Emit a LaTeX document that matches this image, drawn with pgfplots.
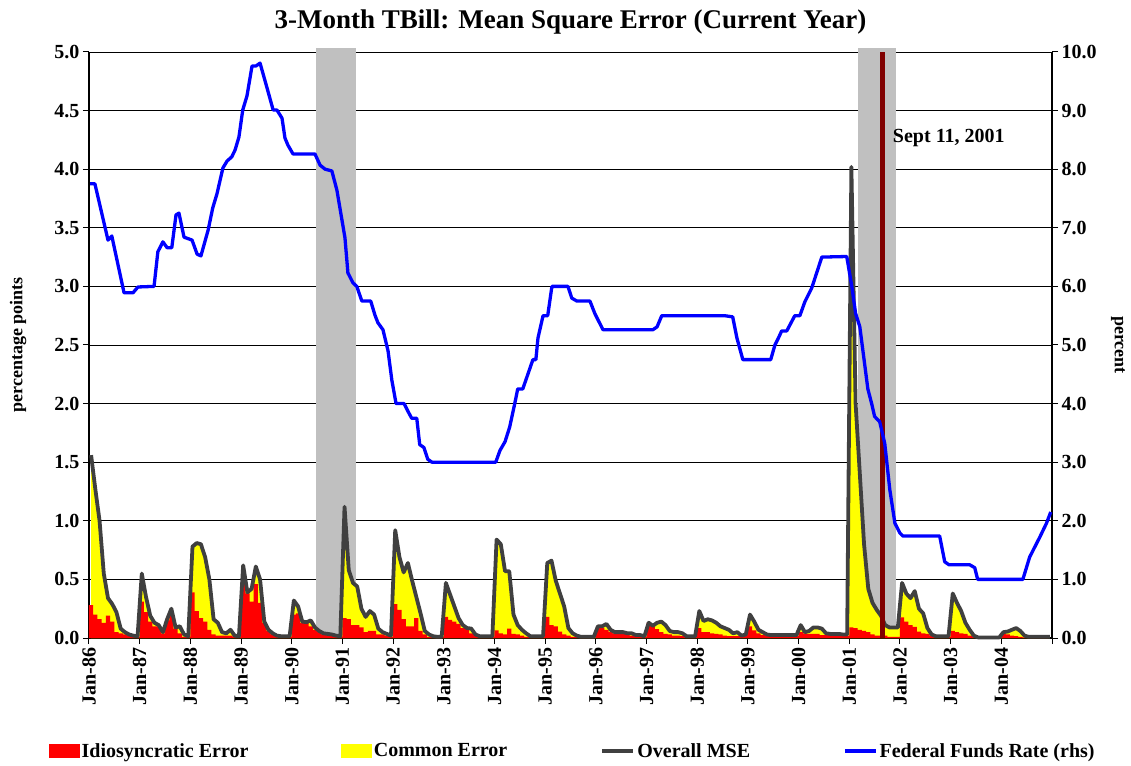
\documentclass[border=0pt]{standalone}
\usepackage{fontspec}
\setmainfont{Liberation Serif}
\usepackage{pgfplots}
\usepackage{pgfplotstable}
\pgfplotsset{compat=1.18}

\definecolor{idiored}{HTML}{FF0000}
\definecolor{comyellow}{HTML}{FFFF00}
\definecolor{msegray}{HTML}{404040}
\definecolor{ffblue}{HTML}{0000FF}
\definecolor{bandgray}{HTML}{C0C0C0}
\definecolor{sepred}{HTML}{800000}

% month index (0 = Jan-86), idiosyncratic error, overall MSE
\pgfplotstableread{
i idio mse
0 0.28 1.56
1 0.20 1.27
2 0.16 1.00
3 0.13 0.55
4 0.19 0.34
5 0.14 0.29
6 0.05 0.22
7 0.04 0.08
8 0.03 0.05
9 0.02 0.03
10 0.01 0.02
11 0.01 0.015
12 0.31 0.55
13 0.22 0.35
14 0.14 0.19
15 0.10 0.13
16 0.10 0.11
17 0.04 0.05
18 0.15 0.16
19 0.20 0.25
20 0.08 0.09
21 0.04 0.10
22 0.01 0.03
23 0.01 0.015
24 0.39 0.78
25 0.23 0.81
26 0.17 0.80
27 0.14 0.69
28 0.07 0.50
29 0.03 0.16
30 0.02 0.13
31 0.02 0.05
32 0.02 0.04
33 0.02 0.07
34 0.01 0.02
35 0.01 0.015
36 0.48 0.62
37 0.38 0.39
38 0.31 0.42
39 0.46 0.61
40 0.30 0.50
41 0.13 0.14
42 0.06 0.07
43 0.03 0.04
44 0.02 0.02
45 0.01 0.015
46 0.01 0.015
47 0.01 0.015
48 0.20 0.32
49 0.21 0.27
50 0.13 0.14
51 0.13 0.135
52 0.10 0.15
53 0.07 0.09
54 0.05 0.06
55 0.03 0.04
56 0.025 0.035
57 0.02 0.03
58 0.015 0.02
59 0.01 0.015
60 0.17 1.12
61 0.16 0.58
62 0.11 0.47
63 0.11 0.44
64 0.09 0.25
65 0.05 0.18
66 0.06 0.23
67 0.06 0.20
68 0.03 0.08
69 0.03 0.05
70 0.02 0.035
71 0.01 0.02
72 0.29 0.92
73 0.24 0.69
74 0.16 0.56
75 0.10 0.64
76 0.10 0.49
77 0.17 0.35
78 0.06 0.21
79 0.03 0.06
80 0.01 0.03
81 0.01 0.015
82 0.01 0.01
83 0.01 0.01
84 0.18 0.47
85 0.155 0.37
86 0.14 0.27
87 0.12 0.17
88 0.085 0.11
89 0.075 0.085
90 0.04 0.08
91 0.03 0.03
92 0.01 0.015
93 0.01 0.015
94 0.01 0.015
95 0.01 0.015
96 0.065 0.84
97 0.04 0.80
98 0.03 0.57
99 0.08 0.57
100 0.035 0.20
101 0.03 0.11
102 0.02 0.07
103 0.01 0.04
104 0.01 0.015
105 0.01 0.015
106 0.01 0.015
107 0.01 0.015
108 0.18 0.64
109 0.11 0.66
110 0.10 0.49
111 0.055 0.38
112 0.03 0.27
113 0.02 0.085
114 0.01 0.04
115 0.01 0.02
116 0.005 0.01
117 0.005 0.01
118 0.005 0.01
119 0.005 0.01
120 0.095 0.10
121 0.085 0.10
122 0.07 0.12
123 0.05 0.07
124 0.04 0.05
125 0.035 0.05
126 0.035 0.05
127 0.035 0.04
128 0.02 0.04
129 0.02 0.025
130 0.02 0.025
131 0.01 0.015
132 0.13 0.13
133 0.10 0.105
134 0.075 0.13
135 0.05 0.14
136 0.035 0.11
137 0.03 0.06
138 0.02 0.05
139 0.02 0.05
140 0.015 0.04
141 0.01 0.015
142 0.01 0.015
143 0.01 0.015
144 0.085 0.23
145 0.05 0.145
146 0.05 0.16
147 0.04 0.15
148 0.035 0.13
149 0.03 0.10
150 0.02 0.085
151 0.015 0.07
152 0.015 0.04
153 0.015 0.05
154 0.015 0.02
155 0.03 0.03
156 0.10 0.20
157 0.065 0.14
158 0.04 0.07
159 0.025 0.05
160 0.02 0.03
161 0.015 0.025
162 0.015 0.025
163 0.015 0.025
164 0.015 0.025
165 0.015 0.025
166 0.015 0.025
167 0.015 0.025
168 0.05 0.11
169 0.04 0.05
170 0.035 0.06
171 0.035 0.09
172 0.035 0.09
173 0.025 0.08
174 0.025 0.04
175 0.025 0.035
176 0.02 0.035
177 0.02 0.035
178 0.02 0.03
179 0.02 0.03
180 0.09 4.02
181 0.085 2.00
182 0.07 1.40
183 0.06 0.80
184 0.05 0.42
185 0.03 0.30
186 0.02 0.24
187 0.02 0.19
188 0.02 0.11
189 0.01 0.09
190 0.01 0.09
191 0.01 0.09
192 0.175 0.47
193 0.14 0.38
194 0.11 0.34
195 0.095 0.40
196 0.055 0.25
197 0.04 0.21
198 0.035 0.085
199 0.02 0.03
200 0.01 0.015
201 0.01 0.015
202 0.01 0.015
203 0.01 0.015
204 0.06 0.38
205 0.05 0.30
206 0.04 0.23
207 0.035 0.13
208 0.02 0.07
209 0.01 0.02
210 0.003 0.005
211 0.003 0.005
212 0.003 0.005
213 0.003 0.005
214 0.003 0.005
215 0.003 0.005
216 0.035 0.05
217 0.03 0.055
218 0.02 0.07
219 0.015 0.085
220 0.01 0.06
221 0.005 0.02
222 0.003 0.01
223 0.003 0.01
224 0.003 0.01
225 0.003 0.01
226 0.003 0.01
227 0.003 0.01
}\msedata

\pgfplotsset{
  every axis/.append style={
    scale only axis, width=963pt, height=586pt,
    xmin=0, xmax=228, clip=false,
    tick align=outside, major tick length=6pt,
    tick style={black, line width=1pt},
    axis line style={black, line width=1.2pt},
    tick label style={font=\fontsize{20}{20}\selectfont\bfseries},
    /pgf/number format/assume math mode=true,
    y tick label style={/pgf/number format/fixed, /pgf/number format/fixed zerofill, /pgf/number format/precision=1},
    scaled y ticks=false,
  }
}

\begin{document}
\begin{tikzpicture}
\begin{axis}[
    axis x line*=bottom, axis y line*=left,
    ymin=0, ymax=5, ytick={0,0.5,...,5},
    ymajorgrids, grid style={black, line width=0.9pt},
    xtick={0,12,...,228},
    xticklabels={Jan-86,Jan-87,Jan-88,Jan-89,Jan-90,Jan-91,Jan-92,Jan-93,Jan-94,Jan-95,Jan-96,Jan-97,Jan-98,Jan-99,Jan-00,Jan-01,Jan-02,Jan-03,Jan-04,{}},
    x tick label style={rotate=90, anchor=east},
    ylabel={percentage points},
    ylabel style={at={(axis description cs:-0.0737,0.5)}, anchor=center, font=\fontsize{18}{18}\selectfont\bfseries},
    title={3-Month TBill: Mean Square Error (Current Year)},
    title style={at={(axis description cs:0.5,1)}, anchor=base, yshift=17pt, font=\fontsize{27}{27}\selectfont\bfseries},
    legend style={at={(axis description cs:-0.0415,-0.1928)}, anchor=west, draw=none, fill=none,
      inner sep=0pt, font=\fontsize{20}{20}\selectfont\bfseries,
      /tikz/every odd column/.append style={column sep=0pt},
      /tikz/every even column/.append style={column sep=91pt}},
    legend columns=4, legend cell align=left,
  ]
  % recession bands
  \addplot[fill=bandgray, draw=none, forget plot] coordinates {(53.8,5.03) (63.2,5.03)} \closedcycle;
  \addplot[fill=bandgray, draw=none, forget plot] coordinates {(182.0,5.03) (191.0,5.03)} \closedcycle;
  % common error fills up to the overall MSE, idiosyncratic bars on top
  \addplot[fill=comyellow, draw=none, forget plot] table[x expr=\thisrow{i}+0.5, y=mse] {\msedata} \closedcycle;
  \addplot[fill=idiored, draw=none, const plot mark left, forget plot] table[x=i, y=idio] {\msedata} \closedcycle;
  \addplot[msegray, line width=3.8pt, line join=round, forget plot] table[x expr=\thisrow{i}+0.5, y=mse] {\msedata};
  % Sept 11
  \addplot[sepred, line width=5pt, forget plot] coordinates {(187.9,0) (187.9,5)};
  \node[anchor=west, inner sep=0pt, font=\fontsize{20}{20}\selectfont\bfseries] at (axis cs:190.3,4.27) {Sept 11, 2001};

  \addlegendimage{legend image code/.code={\fill[idiored] (0pt,-6.5pt) rectangle (30pt,6.5pt);}}
  \addlegendentry{Idiosyncratic Error}
  \addlegendimage{legend image code/.code={\fill[comyellow] (0pt,-6.5pt) rectangle (30pt,6.5pt);}}
  \addlegendentry{Common Error}
  \addlegendimage{legend image code/.code={\draw[msegray, line width=4pt] (0pt,0pt) -- (31pt,0pt);}}
  \addlegendentry{Overall MSE}
  \addlegendimage{legend image code/.code={\draw[ffblue, line width=3.5pt] (0pt,0pt) -- (31pt,0pt);}}
  \addlegendentry{Federal Funds Rate (rhs)}
\end{axis}

\begin{axis}[
    axis x line=none, axis y line*=right,
    ymin=0, ymax=10, ytick={0,1,...,10},
    ylabel={percent},
    ylabel style={at={(axis description cs:1.0685,0.5)}, anchor=center, rotate=180, font=\fontsize{18}{18}\selectfont\bfseries},
  ]
  \addplot[ffblue, line width=3.3pt, line join=round] coordinates {
    (0.24,7.75) (1.4,7.75) (4.5,6.79) (5.4,6.86) (8.3,5.89) (10.4,5.89) (11.6,5.99)
    (15.4,6.0) (16.3,6.59) (17.5,6.76) (18.5,6.66) (19.6,6.66) (20.6,7.22) (21.3,7.25)
    (22.5,6.84) (24.4,6.79) (25.6,6.55) (26.5,6.52) (28.2,6.96) (29.3,7.34) (30.3,7.58)
    (31.7,8.02) (32.7,8.14) (33.8,8.21) (34.6,8.33) (35.5,8.55) (36.4,9.01) (37.4,9.25)
    (38.6,9.76) (39.5,9.76) (40.5,9.81) (42.1,9.40) (43.6,9.01) (44.5,9.01) (45.7,8.87)
    (46.4,8.53) (47.1,8.41) (48.3,8.26) (53.5,8.26) (54.7,8.07) (55.9,8.0) (57.5,7.97)
    (58.7,7.64) (60.6,6.83) (61.3,6.23) (62.5,6.06) (63.4,6.0) (64.6,5.75) (66.7,5.75)
    (67.7,5.51) (68.4,5.38) (69.6,5.26) (70.8,4.9) (71.7,4.4) (72.7,4.0) (74.6,4.0)
    (75.5,3.87) (76.4,3.75) (77.6,3.75) (78.3,3.3) (79.3,3.25) (80.2,3.05) (81.2,3.0)
    (96.3,3.0) (97.3,3.2) (98.5,3.35) (99.6,3.6) (100.8,4.0) (101.5,4.25) (102.7,4.25)
    (103.9,4.5) (105.1,4.75) (105.8,4.75) (106.3,5.12) (107.5,5.5) (108.6,5.5) (109.6,6.0)
    (113.4,6.0) (114.3,5.8) (115.5,5.75) (118.6,5.75) (119.8,5.53) (121.7,5.26) (133.5,5.26)
    (134.5,5.31) (135.6,5.5) (150.5,5.5) (152.4,5.48) (153.4,5.12) (154.8,4.75) (161.4,4.75)
    (162.4,5.0) (163.1,5.1) (164.0,5.24) (165.2,5.24) (167.1,5.5) (168.3,5.5) (169.5,5.74)
    (171.1,5.97) (173.5,6.5) (179.4,6.51) (180.6,6.0) (181.5,5.54) (182.5,5.31) (184.4,4.25)
    (185.3,4.0) (186.0,3.78) (187.2,3.69) (188.4,3.32) (189.6,2.53) (190.8,1.96) (192.0,1.79)
    (192.7,1.74) (201.4,1.74) (202.6,1.3) (203.6,1.25) (208.5,1.25) (209.7,1.2) (210.4,1.0)
    (221.1,1.0) (222.7,1.38) (225.1,1.72) (226.7,1.96) (227.7,2.15)
  };
\end{axis}
\pgfresetboundingbox
\path[use as bounding box] (-89pt,-127pt) rectangle (1042pt,638pt);
\end{tikzpicture}
\end{document}
